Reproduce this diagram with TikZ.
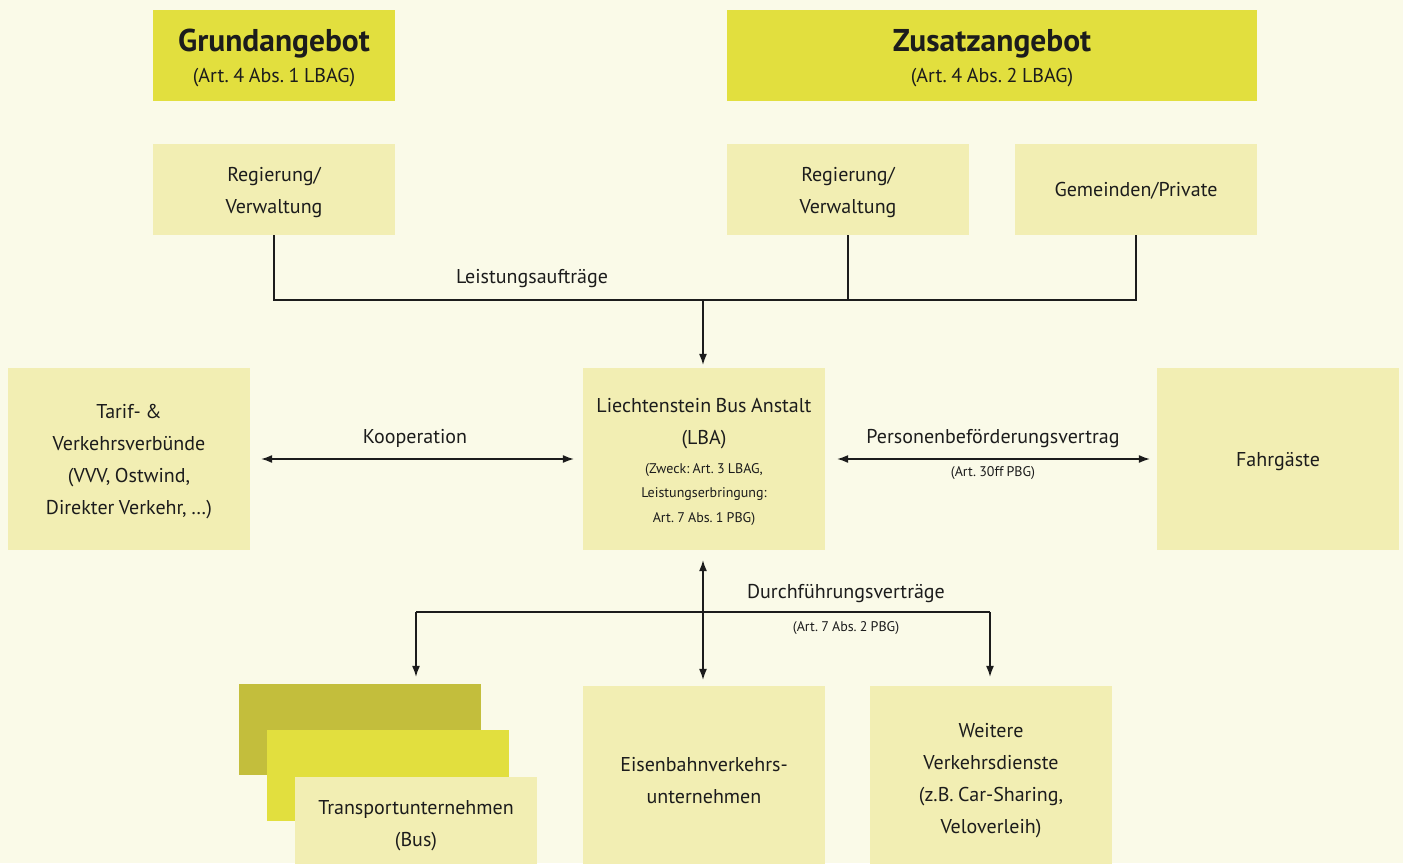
\documentclass[tikz,border=0pt]{standalone}
\usepackage{fontspec}
\setmainfont[WordSpace=0.85]{PT Sans}
\usetikzlibrary{arrows.meta, positioning}
\definecolor{bgcream}{HTML}{FAFAE8}
\definecolor{paleyel}{HTML}{F2EEB3}
\definecolor{headyel}{HTML}{E2DF3E}
\definecolor{oliveyel}{HTML}{C3BE3C}
\definecolor{inkgrey}{HTML}{1C1C1C}
\frenchspacing

\begin{document}
\begin{tikzpicture}[x=1pt, y=-1pt, >={Latex[length=11pt,width=8pt]},
  box/.style={fill=paleyel, minimum width=242pt, minimum height=91pt,
    inner sep=0pt, text width=240pt, align=flush center, text=inkgrey,
    font=\fontsize{20}{32}\selectfont,
    execute at end node={\endgraf\vspace*{-6pt}}},
  headbox/.style={box, fill=headyel},
  lbl/.style={text=inkgrey, inner sep=0pt, font=\fontsize{20}{25}\selectfont},
  smalllbl/.style={text=inkgrey, inner sep=0pt, font=\fontsize{14}{17}\selectfont},
  link/.style={line width=1.2pt, draw=inkgrey}]

\fill[bgcream] (0,0) rectangle (1403,863);
\useasboundingbox (0,0) rectangle (1403,863);

% top row
\node[headbox] (grund) at (274,55) {{\fontsize{31.5}{34}\selectfont\bfseries Grundangebot}\\[-1pt](Art. 4 Abs. 1 LBAG)};
\node[headbox, minimum width=530pt, text width=520pt] (zusatz) at (992,55) {{\fontsize{31.5}{34}\selectfont\bfseries Zusatzangebot}\\[-1pt](Art. 4 Abs. 2 LBAG)};

\node[box] (reg1) at (274,189.5) {Regierung/\\Verwaltung};
\node[box] (reg2) at (848,189.5) {Regierung/\\Verwaltung};
\node[box] (gem) at (1136,189.5) {Gemeinden/Private};

% middle row
\node[box, minimum height=182pt] (tarif) at (129,459) {Tarif- \&\\Verkehrsverbünde\\(VVV, Ostwind,\\Direkter Verkehr, …)};
\node[box, minimum height=182pt] (lba) at (704,459) {Liechtenstein Bus Anstalt\\(LBA)\par\vspace{4pt}
  {\fontsize{14}{24.5}\selectfont (Zweck: Art. 3 LBAG,\\Leistungserbringung:\\Art. 7 Abs. 1 PBG)\par}};
\node[box, minimum height=182pt] (fahr) at (1278,459) {Fahrgäste};

% bottom row
\node[box, fill=oliveyel] (tuA) at (360,729.5) {};
\node[box, fill=headyel] (tuB) at (388,775.5) {};
\node[box] (tuC) at (416,822.5) {Transportunternehmen\\(Bus)};
\node[box, minimum height=184pt] (eisen) at (704,778) {Eisenbahnverkehrs-\\unternehmen};
\node[box, minimum height=184pt] (weit) at (991,778) {Weitere\\Verkehrsdienste\\(z.B. Car-Sharing,\\Veloverleih)};

% Leistungsauftraege
\coordinate (bus) at (703,300);
\draw[link] (reg1.south) |- (gem.south |- bus) -- (gem.south);
\draw[link] (reg2.south) -- (reg2.south |- bus);
\draw[link, ->, shorten >=3pt] (bus) -- (bus |- lba.north);
\node[lbl] (leist) at (532,279) {Leistungsaufträge};

% Kooperation / Personenbefoerderung
\draw[link, <->] ([xshift=11pt]tarif.east) -- ([xshift=-9pt]lba.west);
\node[lbl] (koop) at (415,438) {Kooperation};
\draw[link, <->] ([xshift=12pt]lba.east) -- ([xshift=-7pt]fahr.west);
\node[lbl] (pbv) at (993,439) {Personenbeförderungsvertrag};
\node[smalllbl] (pbvart) at (993,473) {(Art. 30ff PBG)};

% Durchfuehrungsvertraege
\draw[link, <->] ([yshift=-10pt]lba.south -| bus) -- ([yshift=6pt]eisen.north -| bus);
\coordinate (dl) at (416,612);
\coordinate (dr) at (990,612);
\draw[link] (dl) -- (dr);
\draw[link, ->, shorten >=7pt] (dl) -- (dl |- tuA.north);
\draw[link, ->, shorten >=9pt] (dr) -- (dr |- weit.north);
\node[lbl] (durch) at (846,594) {Durchführungsverträge};
\node[smalllbl] (durchart) at (846,628) {(Art. 7 Abs. 2 PBG)};

\end{tikzpicture}
\end{document}
